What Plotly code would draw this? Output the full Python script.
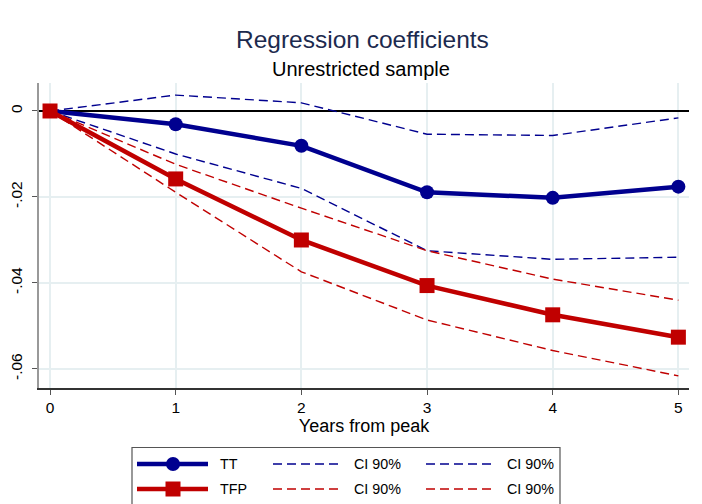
import plotly.graph_objects as go

years = [0, 1, 2, 3, 4, 5]
tt = [0.0, -0.0031, -0.0081, -0.0189, -0.0202, -0.0176]
tt_hi = [0.0, 0.0037, 0.0019, -0.0054, -0.0057, -0.0016]
tt_lo = [0.0, -0.0100, -0.0180, -0.0325, -0.0345, -0.0340]
tfp = [0.0, -0.0158, -0.0300, -0.0406, -0.0474, -0.0526]
tfp_hi = [0.0, -0.0124, -0.0226, -0.0325, -0.0391, -0.0440]
tfp_lo = [0.0, -0.0189, -0.0374, -0.0486, -0.0557, -0.0616]

y_ticks = [-0.06, -0.04, -0.02, 0]
y_ticklabels = ["-.06", "-.04", "-.02", "0"]
legend_labels = ["TT", "CI 90%", "CI 90%", "TFP", "CI 90%", "CI 90%"]

BLUE = "#00008f"
RED = "#c00000"
FONT = "Arial, Liberation Sans, sans-serif"
DASH = "9px,5px"

W, H = 702, 504
OFF = 8  # page body margin
ML, MT = 39 - OFF, 83 - OFF
MR = W - (689 - OFF)
MB = H - (388 - OFF)
PW, PH = W - ML - MR, H - MT - MB


def px(x):
    return (x - OFF - ML) / PW


def py(y):
    return (H - MB - (y - OFF)) / PH


fig = go.Figure()
fig.add_trace(go.Scatter(x=years, y=tt_hi, mode="lines", line=dict(color=BLUE, width=1.4, dash=DASH), showlegend=False))
fig.add_trace(go.Scatter(x=years, y=tt_lo, mode="lines", line=dict(color=BLUE, width=1.4, dash=DASH), showlegend=False))
fig.add_trace(go.Scatter(x=years, y=tfp_hi, mode="lines", line=dict(color=RED, width=1.4, dash=DASH), showlegend=False))
fig.add_trace(go.Scatter(x=years, y=tfp_lo, mode="lines", line=dict(color=RED, width=1.4, dash=DASH), showlegend=False))
fig.add_trace(go.Scatter(x=years, y=tt, mode="lines+markers", line=dict(color=BLUE, width=4.5),
                         marker=dict(symbol="circle", size=14, color=BLUE), showlegend=False))
fig.add_trace(go.Scatter(x=years, y=tfp, mode="lines+markers", line=dict(color=RED, width=4.5),
                         marker=dict(symbol="square", size=15, color=RED), showlegend=False))

shapes = []
annotations = []

# legend box
shapes.append(dict(type="rect", xref="paper", yref="paper", x0=px(132), x1=px(560), y0=py(525), y1=py(447.5),
                   line=dict(color="#555555", width=1.2), fillcolor="white", layer="above"))
rows = [464, 489]
colors = [BLUE, RED]
symbols = ["circle", "square"]
for r, (yy, c, sym) in enumerate(zip(rows, colors, symbols)):
    shapes.append(dict(type="line", xref="paper", yref="paper", x0=px(137), x1=px(208), y0=py(yy), y1=py(yy),
                       line=dict(color=c, width=4.5), layer="above"))
    if sym == "circle":
        shapes.append(dict(type="circle", xref="paper", yref="paper", x0=px(166), x1=px(180), y0=py(yy + 7), y1=py(yy - 7),
                           line=dict(color=c, width=0), fillcolor=c, layer="above"))
    else:
        shapes.append(dict(type="rect", xref="paper", yref="paper", x0=px(165.5), x1=px(180.5), y0=py(yy + 7.5), y1=py(yy - 7.5),
                           line=dict(color=c, width=0), fillcolor=c, layer="above"))
    for x0, x1 in [(273, 342), (426, 494)]:
        shapes.append(dict(type="line", xref="paper", yref="paper", x0=px(x0), x1=px(x1), y0=py(yy), y1=py(yy),
                           line=dict(color=c, width=1.4, dash=DASH), layer="above"))
    for j, tx in enumerate([218, 352, 504.5]):
        annotations.append(dict(xref="paper", yref="paper", x=px(tx), y=py(yy), xanchor="left", yanchor="middle",
                                text=legend_labels[r * 3 + j], showarrow=False,
                                font=dict(family=FONT, size=14.3, color="black")))

# titles
annotations.append(dict(xref="paper", yref="paper", x=px(362), y=py(39), xanchor="center", yanchor="middle",
                        text="Regression coefficients", showarrow=False,
                        font=dict(family=FONT, size=24.5, color="#1c2a4e")))
annotations.append(dict(xref="paper", yref="paper", x=px(361), y=py(69), xanchor="center", yanchor="middle",
                        text="Unrestricted sample", showarrow=False,
                        font=dict(family=FONT, size=20, color="black")))

fig.update_layout(
    width=W, height=H,
    margin=dict(l=ML, r=MR, t=MT, b=MB),
    paper_bgcolor="white", plot_bgcolor="white",
    font=dict(family=FONT, color="black"),
    shapes=shapes, annotations=annotations,
    showlegend=False,
    xaxis=dict(range=[-0.0877, 5.0845], tickvals=years, ticktext=[str(y) for y in years], automargin=False,
               showgrid=True, gridcolor="#e6eff1", gridwidth=1.5, zeroline=False,
               showline=True, linecolor="#333333", linewidth=1.5,
               ticks="outside", ticklen=5, tickcolor="#555555", tickfont=dict(size=15.5, family=FONT),
               title=dict(text="Years from peak", font=dict(size=18, family=FONT), standoff=3)),
    yaxis=dict(range=[-0.06442, 0.00651], tickvals=y_ticks, ticktext=y_ticklabels, tickangle=-90, automargin=False,
               showgrid=True, gridcolor="#e6eff1", gridwidth=1.5,
               zeroline=True, zerolinecolor="black", zerolinewidth=1.5,
               showline=True, linecolor="#999999", linewidth=1.8, ticklabelstandoff=4,
               ticks="outside", ticklen=5, tickcolor="#555555", tickfont=dict(size=15.5, family=FONT)),
)

fig.write_html("out.html")
